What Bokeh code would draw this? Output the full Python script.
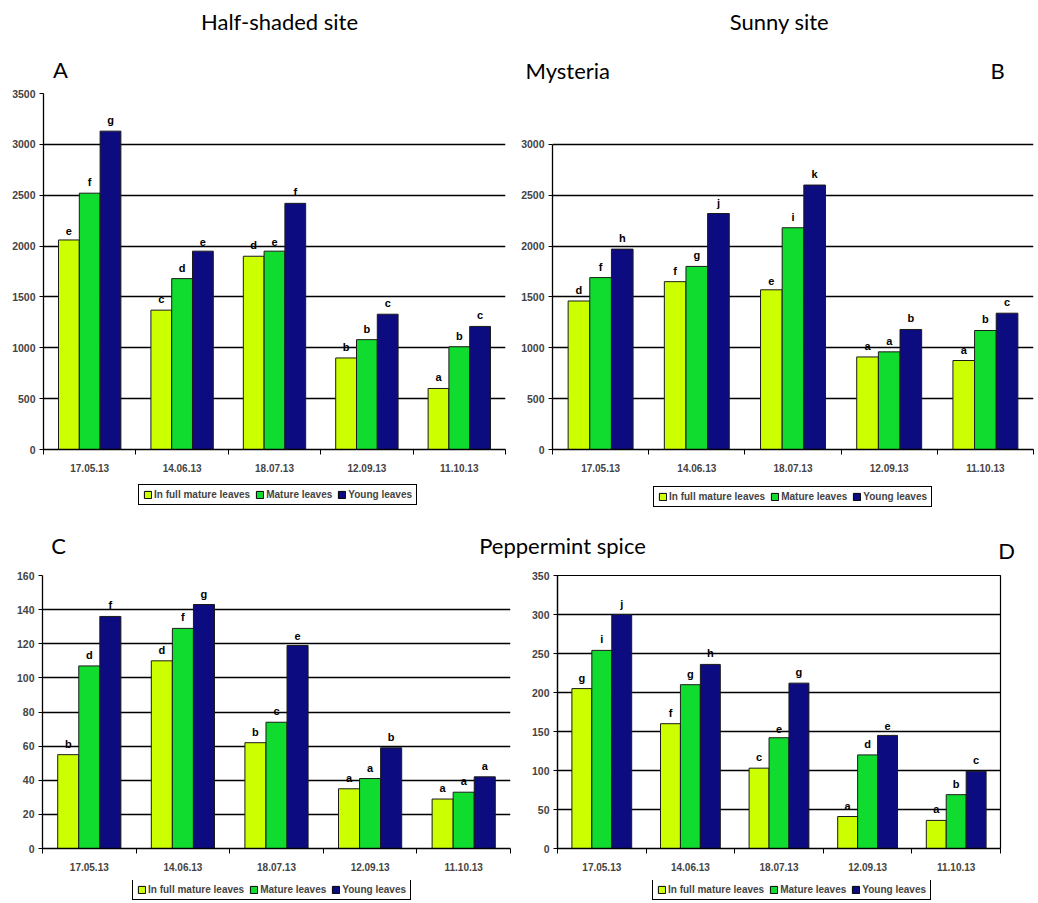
from bokeh.plotting import figure
from bokeh.models import Range1d, FixedTicker, Legend, LegendItem, Label
from bokeh.layouts import column, row
from bokeh.embed import file_html
from bokeh.resources import INLINE
from bokeh.core.properties import value

# ---------------- data ----------------
dates = ["17.05.13", "14.06.13", "18.07.13", "12.09.13", "11.10.13"]
series_names = ["In full mature leaves", "Mature leaves", "Young leaves"]
colors = ["#ccff00", "#10dc30", "#0c0c80"]

# A: Half-shaded site, Mysteria
a_full = [2060, 1370, 1900, 900, 600]
a_mature = [2520, 1680, 1950, 1080, 1010]
a_young = [3130, 1950, 2420, 1330, 1210]
a_full_let = ["e", "c", "d", "b", "a"]
a_mature_let = ["f", "d", "e", "b", "b"]
a_young_let = ["g", "e", "f", "c", "c"]

# B: Sunny site, Mysteria
b_full = [1460, 1650, 1570, 910, 875]
b_mature = [1690, 1800, 2180, 960, 1170]
b_young = [1970, 2320, 2600, 1180, 1340]
b_full_let = ["d", "f", "e", "a", "a"]
b_mature_let = ["f", "g", "i", "a", "b"]
b_young_let = ["h", "j", "k", "b", "c"]

# C: Half-shaded site, Peppermint spice
c_full = [55, 110, 62, 35, 29]
c_mature = [107, 129, 74, 41, 33]
c_young = [136, 143, 119, 59, 42]
c_full_let = ["b", "d", "b", "a", "a"]
c_mature_let = ["d", "f", "c", "a", "a"]
c_young_let = ["f", "g", "e", "b", "a"]

# D: Sunny site, Peppermint spice
d_full = [205, 160, 103, 41, 36]
d_mature = [254, 210, 142, 120, 69]
d_young = [300, 236, 212, 145, 99]
d_full_let = ["g", "f", "c", "a", "a"]
d_mature_let = ["i", "g", "e", "d", "b"]
d_young_let = ["j", "h", "g", "e", "c"]

FONT = "Liberation Sans"
TITLE_FONT = "Lato"


def panel(series, letters, ymax, ystep, yshow, width, height, bl, br, bt, bb, outline=False):
    n = len(dates)
    xs = [i + 1 for i in range(n)]
    p = figure(width=width, height=height, output_backend="svg", toolbar_location=None,
               x_range=Range1d(0.5, n + 0.5), y_range=Range1d(0, ymax),
               min_border_left=bl, min_border_right=br, min_border_top=bt, min_border_bottom=bb,
               background_fill_color="white", border_fill_color="white")
    p.outline_line_color = "black" if outline else None
    p.outline_line_width = 1.2
    bw = 0.225
    offs = [-bw, 0, bw]
    for vals, lets, off, col in zip(series, letters, offs, colors):
        xx = [x + off for x in xs]
        p.vbar(x=xx, top=vals, width=bw, fill_color=col, line_color="#1a1a1a", line_width=1)
        p.text(x=xx, y=vals, text=lets, text_align="center", text_baseline="bottom",
               y_offset=-5, text_font_size="11px", text_font_style="bold",
               text_font=value(FONT), text_color="black")
    yt = list(range(0, yshow + 1, ystep))
    p.yaxis.ticker = FixedTicker(ticks=yt)
    p.yaxis.bounds = (0, yshow)
    p.ygrid.ticker = FixedTicker(ticks=yt)
    p.ygrid.grid_line_color = "black"
    p.ygrid.grid_line_width = 1.3
    p.xgrid.visible = False
    p.yaxis.major_tick_out = 4
    p.yaxis.major_tick_in = 0
    p.yaxis.minor_tick_line_color = None
    p.yaxis.axis_line_width = 1.3
    p.yaxis.major_label_text_font = FONT
    p.yaxis.major_label_text_font_style = "bold"
    p.yaxis.major_label_text_font_size = "10.5px"
    p.yaxis.major_label_standoff = 4

    p.xaxis.ticker = FixedTicker(ticks=xs, minor_ticks=[x + 0.5 for x in range(n + 1)])
    p.xaxis.major_label_overrides = {x: d for x, d in zip(xs, dates)}
    p.xaxis.major_tick_out = 0
    p.xaxis.major_tick_in = 0
    p.xaxis.minor_tick_out = 5
    p.xaxis.minor_tick_in = 0
    p.xaxis.minor_tick_line_color = "black"
    p.xaxis.axis_line_width = 1.5
    p.xaxis.major_label_text_font = FONT
    p.xaxis.major_label_text_font_style = "bold"
    p.xaxis.major_label_text_font_size = "10px"
    p.xaxis.major_label_standoff = 9
    return p


def strip(width, height):
    s = figure(width=width, height=height, output_backend="svg", toolbar_location=None,
               x_axis_location=None, y_axis_location=None, min_border=0,
               x_range=Range1d(0, 1), y_range=Range1d(0, 1))
    s.outline_line_color = None
    s.grid.visible = False
    return s


def lab(p, text, x, y, size="22px", align="center"):
    p.add_layout(Label(x=x, y=y, x_units="screen", y_units="screen", text=text,
                       text_font=TITLE_FONT, text_font_size=size, text_align=align,
                       text_baseline="middle", text_color="black"))


def legend_strip(width, height, spots):
    s = strip(width, height)
    # key renderers: their single bar lies outside the strip's range, only the legend shows them
    rends = [s.vbar(x=[5], top=[1], width=0.2, fill_color=c, line_color="black", line_width=1)
             for c in colors]
    for (lx, ly) in spots:
        items = [LegendItem(label=value(nm), renderers=[r]) for nm, r in zip(series_names, rends)]
        leg = Legend(items=items, orientation="horizontal", location=(lx, ly),
                     border_line_color="black", border_line_width=1.5, border_line_alpha=1,
                     label_text_font=FONT, label_text_font_size="10px",
                     label_text_font_style="bold",
                     glyph_width=9, glyph_height=9, label_standoff=2, spacing=5,
                     padding=4, margin=0, label_height=10, background_fill_alpha=1)
        s.add_layout(leg, "center")
    return s


# header
head = strip(1038, 88)
lab(head, "Half-shaded site", 279, 67)
lab(head, "Sunny site", 779, 67)
lab(head, "A", 60, 19)
lab(head, "Mysteria", 525, 18, align="left")
lab(head, "B", 997, 18)

pA = panel([a_full, a_mature, a_young], [a_full_let, a_mature_let, a_young_let],
           3500, 500, 3500, 510, 390, 43, 5, 5, 29)
pB = panel([b_full, b_mature, b_young], [b_full_let, b_mature_let, b_young_let],
           3500, 500, 3000, 528, 390, 42, 5, 5, 29)

leg1 = legend_strip(1038, 37, [(138, 10), (653, 8)])

mid = strip(1038, 55)
lab(mid, "C", 58, 25)
lab(mid, "Peppermint spice", 562, 25)
lab(mid, "D", 1006, 20)

pC = panel([c_full, c_mature, c_young], [c_full_let, c_mature_let, c_young_let],
           160, 20, 160, 520, 310, 42, 10, 5, 32)
pD = panel([d_full, d_mature, d_young], [d_full_let, d_mature_let, d_young_let],
           350, 50, 350, 518, 310, 37, 38, 5, 32, outline=True)

leg2 = legend_strip(1038, 22, [(132, 2), (652, 2)])

layout = column(head, row(pA, pB), leg1, mid, row(pC, pD), leg2)
open("out.html", "w").write(file_html(layout, INLINE))
